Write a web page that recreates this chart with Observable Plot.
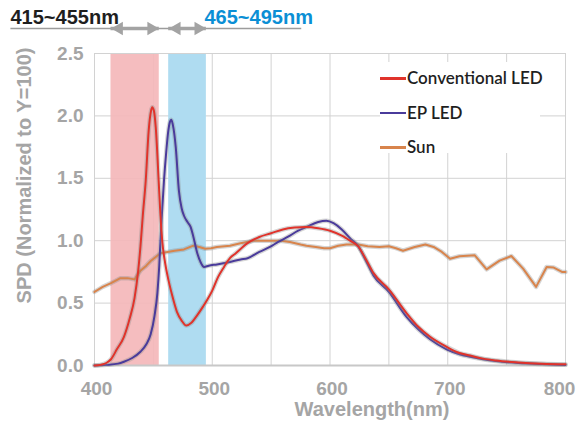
<!DOCTYPE html>
<html>
<head>
<meta charset="utf-8">
<script src="https://cdn.jsdelivr.net/npm/d3@7"></script>
<script src="https://cdn.jsdelivr.net/npm/@observablehq/plot@0.6"></script>
<style>
  body { margin: 0; background: #fff; }
  #wrap { position: relative; width: 579px; height: 428px; }
  #legend { position: absolute; left: 380px; top: 62px; width: 160px; height: 91px; background: #fff;
            font-family: Lato, "Noto Sans", sans-serif; font-size: 17px; color: #1f1f1f; }
  .item { position: absolute; left: 0; height: 20px; }
  .sw { position: absolute; left: 0; top: 9px; width: 26px; height: 2.5px; }
  .lab { position: absolute; left: 27px; top: 0; line-height: 20px; white-space: nowrap; font-weight: 600; }
</style>
</head>
<body>
<div id="wrap"></div>
<script>
// ---- data ----
const seriesNames = ["Conventional LED", "EP LED", "Sun"];
const seriesColors = ["#e0332b", "#4a3b9b", "#d8844c"];

const convWl = [400,405,410,414,419,425,430,434,437,439,441,443.5,446,448,449,450.5,452,454.5,456,457.5,460,462,466,470,474,478,482,487,492,496,500,505,510,515,520,530,540,550,560,570,580,590,600,610,617,624,630,637,650,665,675,685,699,710,719,730,741,760,780,800];
const convVal = [0,0.005,0.02,0.05,0.13,0.23,0.38,0.54,0.75,0.95,1.2,1.48,1.88,2.04,2.07,2.04,1.91,1.48,1.2,1.0,0.82,0.72,0.56,0.43,0.36,0.32,0.34,0.40,0.47,0.53,0.60,0.71,0.79,0.86,0.90,0.98,1.03,1.06,1.09,1.105,1.11,1.10,1.08,1.04,1.0,0.955,0.86,0.74,0.61,0.42,0.31,0.23,0.15,0.10,0.08,0.055,0.04,0.025,0.015,0.01];

const epWl = [400,410,420,425,432,439,444,447.7,451,453.4,455,456,457.5,459,461,462.4,464,465.2,466.5,469,471.7,474,476,479,481.6,484,487.3,490,493,497,504,515,524,530,540,549,556,564,573,580,590,597,603,610,617,624,630,637,650,665,675,685,699,710,719,730,741,760,780,800];
const epVal = [0,0.005,0.015,0.03,0.06,0.11,0.17,0.25,0.40,0.58,0.80,1.0,1.25,1.48,1.72,1.86,1.95,1.97,1.93,1.75,1.40,1.26,1.20,1.15,1.11,1.03,0.90,0.83,0.79,0.80,0.81,0.83,0.85,0.86,0.91,0.95,0.99,1.03,1.08,1.11,1.15,1.16,1.14,1.09,1.02,0.955,0.85,0.72,0.59,0.39,0.29,0.21,0.13,0.09,0.07,0.05,0.035,0.02,0.012,0.005];

const sunWl = [400,407,414,422,428,434,439,444,448,452,456,462,468,476,484,489,494,499,504,515,524,535,548,558,566,575,580,588,595,600,607,614,624,632,642,650,656,662,672,681,688,695,702,710,723,733,744,754,764,775,784,790,797,800];
const sunVal = [0.59,0.63,0.66,0.70,0.70,0.69,0.76,0.80,0.84,0.87,0.90,0.91,0.92,0.93,0.96,0.95,0.935,0.94,0.95,0.96,0.98,1.00,1.00,1.00,0.99,0.97,0.96,0.95,0.94,0.94,0.96,0.97,0.97,0.955,0.95,0.955,0.94,0.92,0.95,0.97,0.95,0.91,0.856,0.875,0.883,0.77,0.84,0.877,0.776,0.63,0.79,0.785,0.75,0.75];

const bandStart = [414, 463];
const bandEnd = [455, 495];
const bandLabels = ["415~455nm", "465~495nm"];
const bandFills = ["#f4b7ba", "#afdcf1"];
const bandLabelColors = ["#1e1e1e", "#0b8fd5"];

const xTicks = [400, 500, 600, 700, 800];
const xGrid = [400, 450, 500, 550, 600, 650, 700, 750, 800];
const yTicks = [0, 0.5, 1.0, 1.5, 2.0, 2.5];
const xLabel = "Wavelength(nm)";
const yLabel = "SPD (Normalized to Y=100)";

// annotation geometry (in data units)
const annoY = 2.7;
const underlineSpan = [329, 576];

// ---- tables ----
const toRows = (wl, val) => wl.map((w, i) => ({w, v: val[i]}));
const conv = toRows(convWl, convVal);
const ep = toRows(epWl, epVal);
const sun = toRows(sunWl, sunVal);
const bands = bandStart.map((s, i) => ({start: s, end: bandEnd[i], fill: bandFills[i]}));

const font = '"Liberation Sans", Arial, sans-serif';
const tickGrey = "#a5a5a5";
const halo = {stroke: "#8a8a8a", strokeWidth: 4.5, strokeOpacity: 0.35};

function series(data, color, curve) {
  return [
    Plot.line(data, {x: "w", y: "v", curve, ...halo}),
    Plot.line(data, {x: "w", y: "v", curve, stroke: color, strokeWidth: 2})
  ];
}

const chart = Plot.plot({
  width: 579,
  height: 428,
  marginLeft: 94,
  marginRight: 14,
  marginTop: 53,
  marginBottom: 63,
  style: {fontFamily: font, fontSize: "19px", fontWeight: "bold", color: tickGrey, background: "#fff", overflow: "visible"},
  x: {domain: [400, 800]},
  y: {domain: [0, 2.5]},
  marks: [
    Plot.gridX(xGrid, {stroke: "#d2d2d2", strokeOpacity: 1}),
    Plot.gridY(yTicks, {stroke: "#d2d2d2", strokeOpacity: 1}),
    Plot.rect([bands[0]], {x1: "start", x2: "end", fill: bandFills[0], fillOpacity: 0.92}),
    Plot.rect([bands[1]], {x1: "start", x2: "end", fill: bandFills[1], fillOpacity: 1}),
    Plot.frame({stroke: "#d2d2d2"}),
    Plot.ruleY([0], {stroke: "#c8c8c8", strokeWidth: 2}),
    ...series(sun, seriesColors[2], "linear"),
    ...series(ep, seriesColors[1], "monotone-x"),
    ...series(conv, seriesColors[0], "monotone-x"),
    Plot.axisX(xTicks.slice(0, 4), {tickSize: 0, tickPadding: 16, label: null, dx: 2}),
    Plot.axisX(xTicks.slice(4), {tickSize: 0, tickPadding: 16, label: null, dx: -6}),
    Plot.axisY(yTicks, {tickSize: 0, tickPadding: 11, tickFormat: d3.format(".1f"), label: null}),
    Plot.text([xLabel], {frameAnchor: "bottom", dx: 42, dy: 50, fill: tickGrey, fontSize: 20, fontWeight: "bold"}),
    Plot.text([yLabel], {frameAnchor: "left", rotate: -90, textAnchor: "middle", dx: -70, dy: -34, fill: tickGrey, fontSize: 20, fontWeight: "bold"}),
    // header annotation
    Plot.ruleY([annoY], {x1: underlineSpan[0], x2: underlineSpan[1], stroke: "#9c9c9c", strokeWidth: 1.5}),
    Plot.ruleY(bands, {y: annoY, x1: "start", x2: "end", stroke: "#a3a3a3", strokeWidth: 3.5}),
    Plot.dot(bands, {x: "end", y: annoY, symbol: "triangle", r: 5, rotate: 90, fill: "#a3a3a3", dx: -8}),
    Plot.dot(bands, {x: "start", y: annoY, symbol: "triangle", r: 5, rotate: -90, fill: "#a3a3a3", dx: 8}),
    Plot.text([bandLabels[0]], {frameAnchor: "top-left", dx: -84, dy: -30, textAnchor: "start", lineAnchor: "bottom", fill: bandLabelColors[0], fontSize: 20, fontWeight: "bold"}),
    Plot.text([bandLabels[1]], {frameAnchor: "top-left", dx: 110, dy: -30, textAnchor: "start", lineAnchor: "bottom", fill: bandLabelColors[1], fontSize: 20, fontWeight: "bold"})
  ]
});

const wrap = document.getElementById("wrap");
wrap.appendChild(chart);

// legend
const legend = document.createElement("div");
legend.id = "legend";
seriesNames.forEach((name, i) => {
  const item = document.createElement("div");
  item.className = "item";
  item.style.top = (6 + i * 34.5) + "px";
  item.style.width = "160px";
  const sw = document.createElement("div");
  sw.className = "sw";
  sw.style.background = seriesColors[i];
  const lab = document.createElement("div");
  lab.className = "lab";
  lab.textContent = name;
  item.appendChild(sw);
  item.appendChild(lab);
  legend.appendChild(item);
});
wrap.appendChild(legend);
</script>
</body>
</html>
